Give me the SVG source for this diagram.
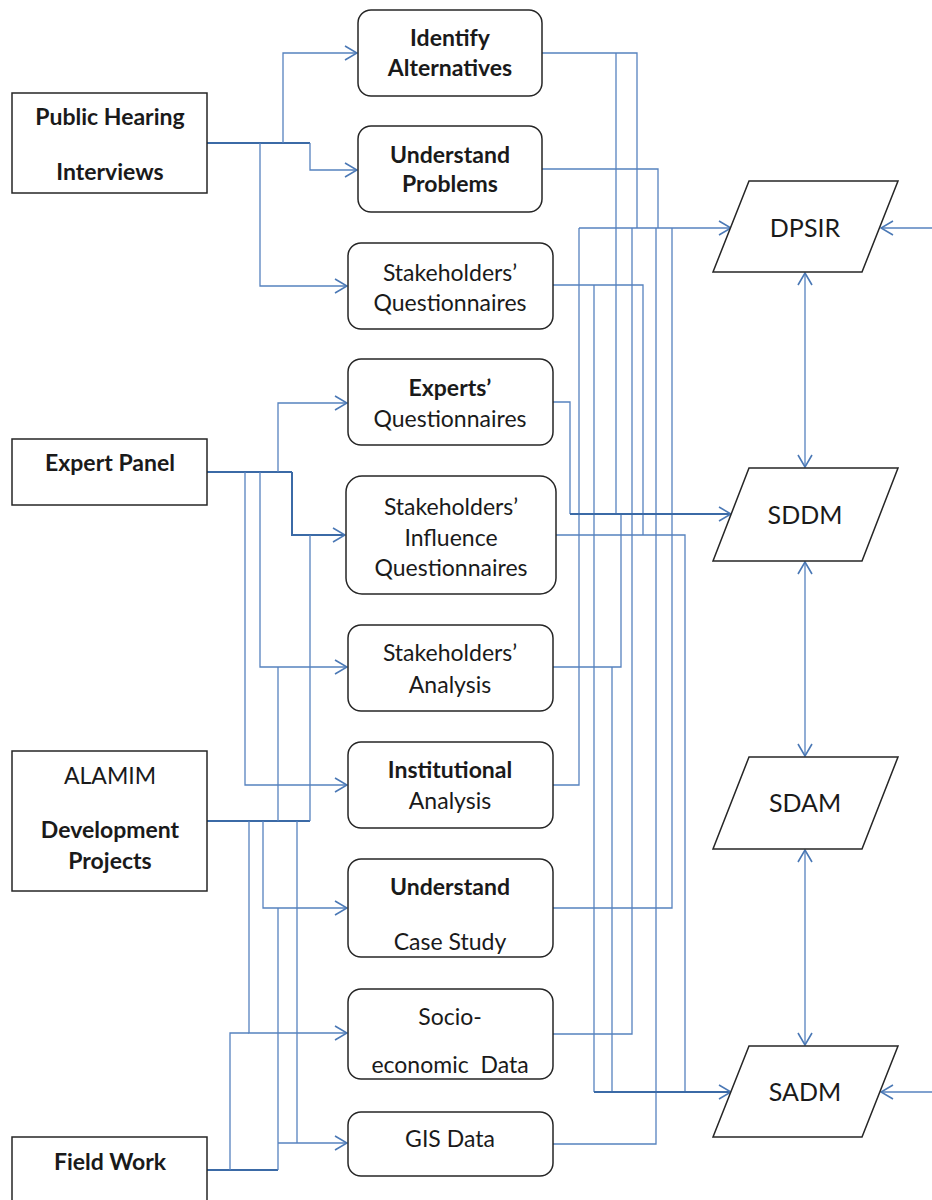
<svg xmlns="http://www.w3.org/2000/svg" width="932" height="1200" viewBox="0 0 932 1200">
  <style>
    .src rect { fill: #ffffff; stroke: #262626; stroke-width: 1.5; }
    .step rect { fill: #ffffff; stroke: #262626; stroke-width: 1.5; }
    .model polygon { fill: #ffffff; stroke: #262626; stroke-width: 1.5; }
    text { font-family: "Lato", "Liberation Sans", sans-serif; font-size: 23px; fill: #1a1a1a; text-anchor: middle; }
    .b { font-weight: bold; }
    .m { font-size: 25px; }
    #connectors path { fill: none; stroke: #5682bf; stroke-width: 1.3; }
    #connectors path.thick { stroke: #3b6aa6; stroke-width: 2; }
    .arr { marker-end: url(#arrow); }
    .both { marker-start: url(#arrow); marker-end: url(#arrow); }
  </style>
  <defs>
    <marker id="arrow" viewBox="0 0 14 16" refX="13" refY="8" markerWidth="14" markerHeight="16" markerUnits="userSpaceOnUse" orient="auto-start-reverse">
      <path d="M1,1 L13,8 L1,15" fill="none" stroke="#4a78b5" stroke-width="1.6"/>
    </marker>
  </defs>
  <rect width="932" height="1200" fill="#ffffff"/>

  <g id="connectors">
    <!-- Public Hearing fan-out -->
    <path class="thick" d="M207,143 H310"/>
    <path class="arr" d="M283,143 V53 H357"/>
    <path class="arr" d="M310,143 V170 H357"/>
    <path class="arr" d="M260,143 V286 H347"/>
    <!-- Expert Panel fan-out -->
    <path class="thick" d="M207,472 H292"/>
    <path class="arr" d="M278,472 V403 H347"/>
    <path class="arr thick" d="M292,472 V535 H345"/>
    <path class="arr" d="M260,472 V667 H347"/>
    <path class="arr" d="M245,472 V785 H347"/>
    <!-- ALAMIM fan-out -->
    <path class="thick" d="M207,821 H310"/>
    <path d="M310,821 V535"/>
    <path d="M278,821 V667"/>
    <path class="arr" d="M263,821 V908 H347"/>
    <path class="arr" d="M249,821 V1033 H347"/>
    <path d="M297,821 V1143"/>
    <!-- Field Work fan-out -->
    <path class="thick" d="M207,1170 H278"/>
    <path d="M230,1170 V1033 H249"/>
    <path d="M278,1170 V908"/>
    <path class="arr" d="M278,1143 H347"/>

    <!-- outputs into the models -->
    <path d="M542,53 H637 V228"/>
    <path d="M616,53 V514"/>
    <path d="M542,169 H658 V228"/>
    <path d="M553,285 H643 V535"/>
    <path d="M594,285 V1092"/>
    <path d="M553,402 H570 V514"/>
    <path d="M556,535 H685 V1092"/>
    <path d="M553,667 H621 V514"/>
    <path d="M612,667 V1092"/>
    <path d="M553,785 H579 V228"/>
    <path d="M553,908 H672 V228"/>
    <path d="M553,1034 H632 V228"/>
    <path d="M553,1144 H656 V228"/>

    <!-- model inputs -->
    <path class="arr" d="M579,228 H731"/>
    <path class="arr thick" d="M570,514 H731"/>
    <path class="arr thick" d="M594,1092 H731"/>
    <path class="arr" d="M932,228 H881"/>
    <path class="arr" d="M932,1092 H881"/>

    <!-- links between models -->
    <path class="both" d="M805,273 V467"/>
    <path class="both" d="M805,562 V756"/>
    <path class="both" d="M805,850 V1045"/>
  </g>

  <!-- sources -->
  <g id="public-hearing" class="src">
    <rect x="12" y="93" width="195" height="100"/>
    <text class="b" x="110" y="125">Public Hearing</text>
    <text class="b" x="110" y="180">Interviews</text>
  </g>
  <g id="expert-panel" class="src">
    <rect x="12" y="439" width="195" height="66"/>
    <text class="b" x="110" y="471">Expert Panel</text>
  </g>
  <g id="alamim" class="src">
    <rect x="12" y="751" width="195" height="140"/>
    <text x="110" y="784">ALAMIM</text>
    <text class="b" x="110" y="838">Development</text>
    <text class="b" x="110" y="869">Projects</text>
  </g>
  <g id="field-work" class="src">
    <rect x="12" y="1137" width="195" height="80"/>
    <text class="b" x="110" y="1170">Field Work</text>
  </g>

  <!-- processing steps -->
  <g id="identify-alternatives" class="step">
    <rect x="358" y="10" width="184" height="86" rx="13"/>
    <text class="b" x="450" y="46">Identify</text>
    <text class="b" x="450" y="76">Alternatives</text>
  </g>
  <g id="understand-problems" class="step">
    <rect x="358" y="126" width="184" height="86" rx="13"/>
    <text class="b" x="450" y="163">Understand</text>
    <text class="b" x="450" y="192">Problems</text>
  </g>
  <g id="stakeholders-questionnaires" class="step">
    <rect x="348" y="243" width="205" height="86" rx="13"/>
    <text x="450" y="281">Stakeholders’</text>
    <text x="450" y="311">Questionnaires</text>
  </g>
  <g id="experts-questionnaires" class="step">
    <rect x="348" y="359" width="205" height="86" rx="13"/>
    <text class="b" x="450" y="396">Experts’</text>
    <text x="450" y="427">Questionnaires</text>
  </g>
  <g id="influence-questionnaires" class="step">
    <rect x="346" y="476" width="210" height="118" rx="16"/>
    <text x="451" y="515">Stakeholders’</text>
    <text x="451" y="546">Influence</text>
    <text x="451" y="576">Questionnaires</text>
  </g>
  <g id="stakeholders-analysis" class="step">
    <rect x="348" y="625" width="205" height="86" rx="13"/>
    <text x="450" y="661">Stakeholders’</text>
    <text x="450" y="693">Analysis</text>
  </g>
  <g id="institutional-analysis" class="step">
    <rect x="348" y="742" width="205" height="86" rx="13"/>
    <text class="b" x="450" y="778">Institutional</text>
    <text x="450" y="809">Analysis</text>
  </g>
  <g id="understand-case-study" class="step">
    <rect x="348" y="859" width="205" height="98" rx="13"/>
    <text class="b" x="450" y="895">Understand</text>
    <text x="450" y="950">Case Study</text>
  </g>
  <g id="socio-economic-data" class="step">
    <rect x="348" y="989" width="205" height="90" rx="13"/>
    <text x="450" y="1025">Socio-</text>
    <text x="450" y="1073">economic&#160; Data</text>
  </g>
  <g id="gis-data" class="step">
    <rect x="348" y="1112" width="205" height="64" rx="13"/>
    <text x="450" y="1147">GIS Data</text>
  </g>

  <!-- models -->
  <g id="dpsir" class="model">
    <polygon points="749,181 898,181 862,272 713,272"/>
    <text class="m" x="805" y="237">DPSIR</text>
  </g>
  <g id="sddm" class="model">
    <polygon points="749,468 898,468 862,561 713,561"/>
    <text class="m" x="805" y="524">SDDM</text>
  </g>
  <g id="sdam" class="model">
    <polygon points="749,757 898,757 862,849 713,849"/>
    <text class="m" x="805" y="812">SDAM</text>
  </g>
  <g id="sadm" class="model">
    <polygon points="749,1046 898,1046 862,1137 713,1137"/>
    <text class="m" x="805" y="1101">SADM</text>
  </g>
</svg>
